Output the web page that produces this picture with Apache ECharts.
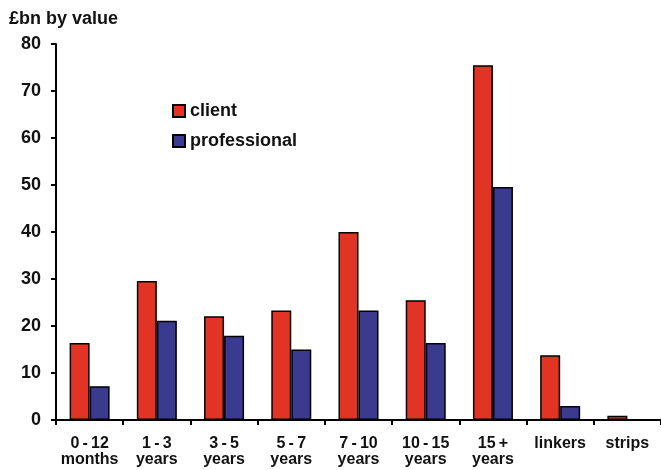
<!DOCTYPE html>
<html><head><meta charset="utf-8">
<script src="https://cdn.jsdelivr.net/npm/echarts@6/dist/echarts.min.js"></script>
<style>html,body{margin:0;padding:0;background:#fff}#c{width:661px;height:470px}</style>
</head><body><div id="c"></div>
<script>
var categories = ['0\u2009-\u200912\nmonths','1\u2009-\u20093\nyears','3\u2009-\u20095\nyears','5\u2009-\u20097\nyears','7\u2009-\u200910\nyears','10\u2009-\u200915\nyears','15\u2009+\nyears','linkers','strips'];
var client = [16.4, 29.6, 22.1, 23.3, 40.0, 25.5, 75.5, 13.8, 0.9];
var professional = [7.2, 21.1, 17.9, 15.0, 23.3, 16.4, 49.6, 3.0, 0];
var yTicks = [0, 10, 20, 30, 40, 50, 60, 70, 80];

var chart = echarts.init(document.getElementById('c'));
var font = 'Liberation Sans, Arial, sans-serif';
chart.setOption({
  animation: false,
  title: {text: '£bn by value', left: 4, top: 5, textStyle: {fontFamily: font, fontSize: 18, fontWeight: 'bold', color: '#111'}},
  legend: {
    orient: 'vertical', left: 167, top: 97, itemWidth: 12, itemHeight: 12, itemGap: 12, itemTextGap: 4,
    textStyle: {fontFamily: font, fontSize: 18, fontWeight: 'bold', color: '#111'},
    data: [{name: 'client', icon: 'rect'}, {name: 'professional', icon: 'rect'}]
  },
  grid: {left: 56, right: -2, top: 44, bottom: 50, containLabel: false},
  xAxis: {
    type: 'category', data: categories,
    axisLine: {lineStyle: {color: '#000', width: 2}},
    axisTick: {show: true, length: 5, lineStyle: {color: '#000', width: 2}},
    axisLabel: {interval: 0, fontFamily: font, fontSize: 16, fontWeight: 'bold', color: '#111', lineHeight: 16, margin: 16}
  },
  yAxis: {
    type: 'value', min: yTicks[0], max: yTicks[yTicks.length-1], interval: 10,
    axisLine: {show: true, lineStyle: {color: '#000', width: 2}},
    axisTick: {show: true, length: 5, lineStyle: {color: '#000', width: 2}},
    splitLine: {show: false},
    axisLabel: {fontFamily: font, fontSize: 18, fontWeight: 'bold', color: '#111', margin: 15}
  },
  series: [
    {name: 'client', type: 'bar', data: client, barWidth: 20, barGap: '0%',
     itemStyle: {color: '#E23424', borderColor: '#000', borderWidth: 1.5}},
    {name: 'professional', type: 'bar', data: professional, barWidth: 20,
     itemStyle: {color: '#3A3A8E', borderColor: '#000', borderWidth: 1.5}}
  ]
});
</script></body></html>
